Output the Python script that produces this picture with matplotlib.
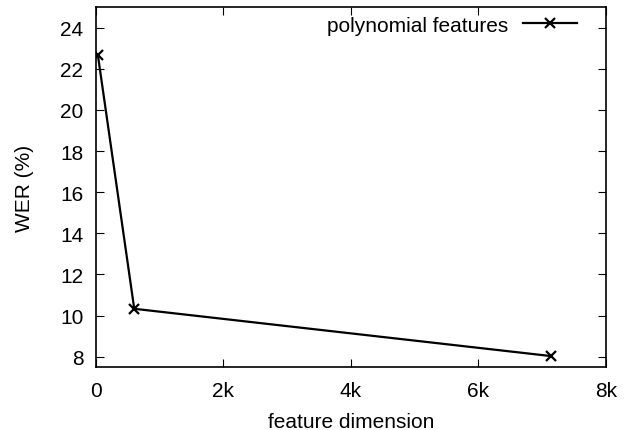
import numpy as np
import matplotlib
matplotlib.use('Agg')
import matplotlib.pyplot as plt
from matplotlib.ticker import FuncFormatter

plt.rcParams.update({'font.size': 15, 'font.family': 'Liberation Sans'})

# feature dimension vs WER
dims = [30, 600, 7140]
wer = [22.65, 10.33, 8.03]
series_label = 'polynomial features'

fig = plt.figure(figsize=(6.25, 4.31), dpi=100)
ax = fig.add_axes([96/625, 1 - 368/431, 510/625, 360/431])

ax.plot(dims, wer, '-x', color='k', linewidth=1.6, markersize=7, markeredgewidth=1.6,
        label=series_label)

ax.set_xlim(0, 8000)
ax.set_ylim(7.5, 25)
ax.set_xticks([0, 2000, 4000, 6000, 8000])
ax.set_yticks(np.arange(8, 25, 2))
ax.xaxis.set_major_formatter(FuncFormatter(lambda v, p: '0' if v == 0 else '%dk' % (v / 1000)))

ax.tick_params(direction='in', top=True, right=True, length=6, width=0.8)
ax.tick_params(axis='x', pad=10)
ax.tick_params(axis='y', pad=9)
for s in ax.spines.values():
    s.set_linewidth(1.2)

ax.set_xlabel('feature dimension', labelpad=9)
ax.set_ylabel('WER (%)', labelpad=19)

ax.legend(loc='upper right', bbox_to_anchor=(1 - 16/510, 1 + 4/360), frameon=False,
          markerfirst=False, handlelength=2.6, borderaxespad=0.2, handletextpad=0.7)

fig.savefig('out.png', dpi=100)
